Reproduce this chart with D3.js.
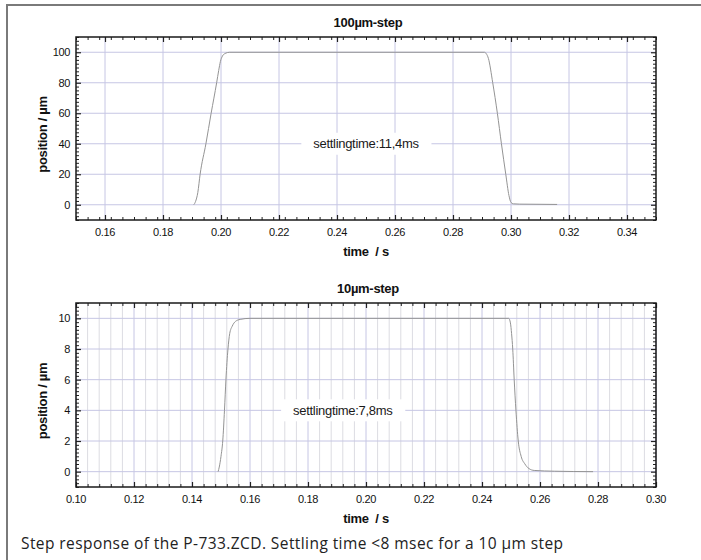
<!DOCTYPE html>
<html>
<head>
<meta charset="utf-8">
<script src="https://cdn.jsdelivr.net/npm/d3@7"></script>
<style>
  html, body { margin: 0; padding: 0; background: #fff; }
  svg { display: block; }
  .tick-label { font-family: "Liberation Sans", Arial, sans-serif; font-size: 11px; letter-spacing: -0.4px; fill: #111; }
  .title { font-family: "Liberation Sans", Arial, sans-serif; font-size: 13px; font-weight: bold; letter-spacing: -0.3px; fill: #111; }
  .note { font-family: "Liberation Sans", Arial, sans-serif; font-size: 13px; letter-spacing: -0.3px; fill: #1a1a1a; }
  .caption { font-family: "Open Sans", "Noto Sans", sans-serif; font-size: 15.5px; fill: #222; }
</style>
</head>
<body>
<svg id="chart" width="701" height="560"></svg>
<script>
// 100 µm step: time (s) and position (µm)
const step100Time = [0.1906, 0.1912, 0.1920, 0.1928, 0.1948, 0.1966, 0.1985, 0.1992, 0.1998, 0.2005, 0.2014, 0.2030,
                     0.2908, 0.2915, 0.2922, 0.2937, 0.2953, 0.2967, 0.2982, 0.2993, 0.3000, 0.3008, 0.3030, 0.3100, 0.3159];
const step100Pos  = [0, 2, 8, 20, 40, 60, 80, 88, 94, 97.5, 99.2, 100,
                     100, 99, 96, 80, 60, 40, 20, 6, 1.5, 0.6, 0.4, 0.3, 0.2];

// 10 µm step: time (s) and position (µm)
const step10Time = [0.1490, 0.1494, 0.1500, 0.1506, 0.1512, 0.1517, 0.1524, 0.1530, 0.1539, 0.1550, 0.1566, 0.1600,
                    0.2492, 0.2498, 0.2502, 0.2506, 0.2511, 0.2517, 0.2525, 0.2535, 0.2548, 0.2562, 0.2580, 0.2650, 0.2783];
const step10Pos  = [0, 0.3, 1.0, 2, 4, 6, 8, 9.0, 9.5, 9.8, 9.93, 10,
                    10, 9.7, 9.0, 8, 6, 4, 2, 1.0, 0.5, 0.2, 0.08, 0.03, 0];

// axis ticks
const xTicks100 = [0.16, 0.18, 0.20, 0.22, 0.24, 0.26, 0.28, 0.30, 0.32, 0.34];
const yTicks100 = [0, 20, 40, 60, 80, 100];
const xTicks10  = [0.10, 0.12, 0.14, 0.16, 0.18, 0.20, 0.22, 0.24, 0.26, 0.28, 0.30];
const yTicks10  = [0, 2, 4, 6, 8, 10];

const titles = ["100µm-step", "10µm-step"];
const notes = ["settlingtime:11,4ms", "settlingtime:7,8ms"];
const noteTime = [0.25, 0.192];
const notePos = [40, 4];

const svg = d3.select("#chart");
svg.append("rect").attr("width", 701).attr("height", 560).attr("fill", "#fff");

// page frame
svg.append("line").attr("x1", 6).attr("x2", 701).attr("y1", 5).attr("y2", 5)
  .attr("stroke", "#7a7a7a").attr("stroke-width", 2);
svg.append("line").attr("x1", 7).attr("x2", 7).attr("y1", 4).attr("y2", 560)
  .attr("stroke", "#7a7a7a").attr("stroke-width", 2);

const panels = [
  { t: step100Time, p: step100Pos, xd: [0.15, 0.35], yd: [-10, 110], xt: xTicks100, yt: yTicks100,
    xMinor: 0.004, yMinor: 2.5, top: 37, bottom: 220, minorGrid: false, yFmt: d3.format("d") },
  { t: step10Time, p: step10Pos, xd: [0.10, 0.30], yd: [-1, 11], xt: xTicks10, yt: yTicks10,
    xMinor: 0.004, yMinor: 0.25, top: 303, bottom: 487, minorGrid: true, yFmt: d3.format("d") }
];

const left = 76, right = 656;

panels.forEach((cfg, i) => {
  const x = d3.scaleLinear().domain(cfg.xd).range([left, right]);
  const y = d3.scaleLinear().domain(cfg.yd).range([cfg.bottom, cfg.top]);
  const g = svg.append("g");

  const xMinorTicks = d3.range(Math.round((cfg.xd[1] - cfg.xd[0]) / cfg.xMinor) + 1)
    .map(k => cfg.xd[0] + k * cfg.xMinor)
    .filter(v => !cfg.xt.some(m => Math.abs(m - v) < 1e-9));
  const yMinorTicks = d3.range(Math.round((cfg.yd[1] - cfg.yd[0]) / cfg.yMinor) + 1)
    .map(k => cfg.yd[0] + k * cfg.yMinor)
    .filter(v => !cfg.yt.some(m => Math.abs(m - v) < 1e-9));

  // grid
  if (cfg.minorGrid) {
    g.selectAll(".vminor").data(xMinorTicks).join("line")
      .attr("x1", d => x(d)).attr("x2", d => x(d))
      .attr("y1", cfg.top).attr("y2", cfg.bottom)
      .attr("stroke", "#dcdce2").attr("stroke-width", 1);
  }
  g.selectAll(".vgrid").data(cfg.xt).join("line")
    .attr("x1", d => x(d)).attr("x2", d => x(d))
    .attr("y1", cfg.top).attr("y2", cfg.bottom)
    .attr("stroke", "#c6c6e4").attr("stroke-width", 1);
  g.selectAll(".hgrid").data(cfg.yt).join("line")
    .attr("x1", left).attr("x2", right)
    .attr("y1", d => y(d)).attr("y2", d => y(d))
    .attr("stroke", "#c6c6e4").attr("stroke-width", 1);

  // settling-time note with white backing
  const nt = g.append("text").attr("class", "note")
    .attr("x", x(noteTime[i])).attr("y", y(notePos[i]))
    .attr("text-anchor", "middle").attr("dominant-baseline", "central")
    .text(notes[i]);
  const bb = nt.node().getBBox();
  g.insert("rect", "text.note")
    .attr("x", bb.x - 12).attr("y", y(notePos[i]) - 11)
    .attr("width", bb.width + 24).attr("height", 22)
    .attr("fill", "#fff");

  // response curve
  const line = d3.line()
    .x((d, k) => x(cfg.t[k]))
    .y((d, k) => y(cfg.p[k]))
    .curve(d3.curveMonotoneX);
  g.append("path").datum(cfg.p)
    .attr("d", line)
    .attr("fill", "none").attr("stroke", "#949494").attr("stroke-width", 1);

  // inward ticks on all four sides
  const axes = [
    { ax: d3.axisBottom(x), tr: `translate(0,${cfg.bottom})`, major: cfg.xt, minor: xMinorTicks },
    { ax: d3.axisTop(x), tr: `translate(0,${cfg.top})`, major: cfg.xt, minor: xMinorTicks },
    { ax: d3.axisLeft(y), tr: `translate(${left},0)`, major: cfg.yt, minor: yMinorTicks },
    { ax: d3.axisRight(y), tr: `translate(${right},0)`, major: cfg.yt, minor: yMinorTicks }
  ];
  axes.forEach(a => {
    const mg = g.append("g").attr("transform", a.tr)
      .call(a.ax.tickValues(a.minor).tickSize(-3).tickFormat(""));
    mg.select(".domain").remove();
    mg.selectAll(".tick line").attr("stroke", "#222");
    const Mg = g.append("g").attr("transform", a.tr)
      .call(a.ax.tickValues(a.major).tickSize(-5).tickFormat(""));
    Mg.select(".domain").remove();
    Mg.selectAll(".tick line").attr("stroke", "#222").attr("stroke-width", 1.2);
  });

  // tick labels
  g.selectAll(".xl").data(cfg.xt).join("text").attr("class", "tick-label")
    .attr("x", d => x(d)).attr("y", cfg.bottom + 16)
    .attr("text-anchor", "middle").text(d => d3.format(".2f")(d));
  g.selectAll(".yl").data(cfg.yt).join("text").attr("class", "tick-label")
    .attr("x", left - 6).attr("y", d => y(d)).attr("dominant-baseline", "central")
    .attr("text-anchor", "end").text(d => cfg.yFmt(d));

  // frame
  g.append("rect").attr("x", left).attr("y", cfg.top)
    .attr("width", right - left).attr("height", cfg.bottom - cfg.top)
    .attr("fill", "none").attr("stroke", "#1a1a1a").attr("stroke-width", 1.5);

  // titles and axis labels
  g.append("text").attr("class", "title").attr("x", 368).attr("y", cfg.top - 10)
    .attr("text-anchor", "middle").text(titles[i]);
  g.append("text").attr("class", "title").attr("x", 366).attr("y", cfg.bottom + 36)
    .attr("text-anchor", "middle").style("white-space", "pre").text("time  / s");
  g.append("text").attr("class", "title")
    .attr("transform", `translate(47,${(cfg.top + cfg.bottom) / 2 + 6}) rotate(-90)`)
    .attr("text-anchor", "middle").text("position / µm");
});

svg.append("text").attr("class", "caption").attr("x", 21).attr("y", 549)
  .attr("textLength", 542).attr("lengthAdjust", "spacing")
  .text("Step response of the P-733.ZCD. Settling time <8 msec for a 10 µm step");
</script>
</body>
</html>
